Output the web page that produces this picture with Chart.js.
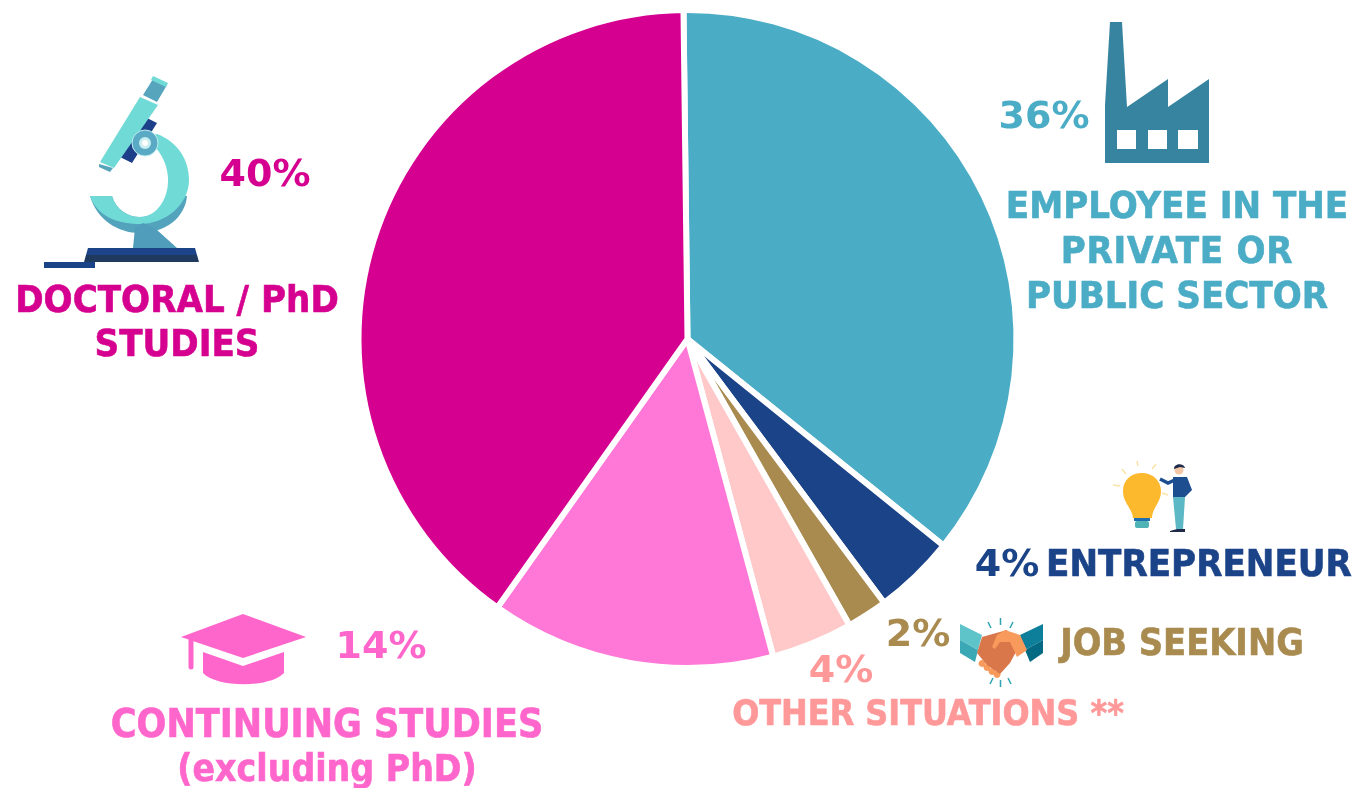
<!DOCTYPE html>
<html>
<head>
<meta charset="utf-8">
<title>Situation of graduates</title>
<script src="https://cdn.jsdelivr.net/npm/chart.js@4"></script>
<style>
  html, body { margin: 0; padding: 0; background: #fff; overflow: hidden; }
  #wrap { position: relative; width: 1355px; height: 788px; }
  #pie { position: absolute; left: 0; top: 0; }
  #icons { position: absolute; left: 0; top: 0; }
  .t {
    position: absolute; white-space: nowrap; font-weight: bold;
    font-family: "DejaVu Sans", sans-serif; font-stretch: condensed;
    -webkit-text-stroke: 0.6px currentColor;
    font-size: 38px; line-height: 44px; transform: translate(-50%, -50%);
  }
  .p { font-stretch: normal; -webkit-text-stroke: 0; }
</style>
</head>
<body>
<div id="wrap">
  <canvas id="pie" width="1355" height="788"></canvas>

  <svg id="icons" width="1355" height="788" viewBox="0 0 1355 788">
    <!-- microscope -->
    <path fill="#53a3bd" d="M90 196C97 220 118 233 140 233C165 233 185 218 187 196L168 196C160 212 150 217 140 217C128 217 116 210 112 196Z"/>
    <path fill="#6fdad6" d="M90 196L112 196C116 210 128 217 140 217C157 217 169 198 168 178C167 158 155 145 145 138L157 134C178 142 189 160 189 180C189 205 165 224 140 224C115 224 97 215 90 196Z"/>
    <path fill="#4f9cbb" d="M133 248L135 228L143 223L157 230L177 248Z"/>
    <path fill="#1d3f8a" d="M145 117L157 123L132 163L120 157Z"/>
    <path fill="#57a5bd" d="M153 79L167 85L157 102L143 95ZM99 164L113 168L110 172L99 167Z"/>
    <path fill="#6fdad6" d="M140 97L158 105L114 168L100 162Z"/>
    <path fill="#6fdad6" d="M153 76L168 83L166 87L151 80Z"/>
    <circle cx="145" cy="143" r="13" fill="#5aaac5" stroke="#bfeef0" stroke-width="1"/>
    <circle cx="145" cy="143" r="6" fill="#c9eef0"/>
    <circle cx="145" cy="143" r="3" fill="#fff"/>
    <path fill="#1d4488" d="M88 248H195L197 255H86Z"/>
    <path fill="#20395f" d="M86 255H197L199 262H84Z"/>
    <rect x="44" y="262" width="51" height="6" fill="#1b4388"/>

    <!-- factory -->
    <path fill="#36849f" fill-rule="evenodd" d="M1110 22H1122L1127 107L1168 79V107L1209 79V163H1105V105ZM1117 130V149H1136V130ZM1148 130V149H1167V130ZM1178 130V149H1198V130Z"/>

    <!-- bulb and man -->
    <g stroke="#fbe3a8" stroke-width="1.5">
      <path d="M1113 485L1120 486M1122 469L1126 474M1137 461L1138 466M1156 464L1152 469M1162 493L1168 495"/>
    </g>
    <path fill="#fdb92e" d="M1133 518C1132 508 1123 503 1123 491C1123 480 1131 473 1142 473C1153 473 1161 481 1161 491C1161 503 1152 508 1152 518Z"/>
    <rect x="1134" y="518" width="16" height="3" fill="#1f6fb0"/>
    <rect x="1135" y="521" width="14" height="7" rx="2" fill="#4fb3b5"/>
    <path stroke="#1d4e8f" stroke-width="3.5" fill="none" d="M1177 479L1168 483L1160 479"/>
    <path fill="#5bb8c4" d="M1173 497H1185L1183 529H1176Z"/>
    <path fill="#1d4e8f" d="M1173 477H1187L1192 490L1185 497H1173Z"/>
    <circle cx="1179" cy="470" r="4.5" fill="#f3c6a5"/>
    <path fill="#1e2b4a" d="M1174 469C1174 463 1184 463 1185 468L1180 467ZM1170 531L1177 529H1185V532H1170Z"/>

    <!-- handshake -->
    <path fill="#5fc3ca" d="M960 624L982 635L978 650L960 640Z"/>
    <path fill="#3aa9b5" d="M960 640L978 650L975 662L960 653Z"/>
    <path fill="#0d7f9b" d="M1043 624L1020 635L1025 650L1043 640Z"/>
    <path fill="#046a84" d="M1043 640L1025 650L1030 662L1043 653Z"/>
    <path fill="#f79a5b" d="M982 660a3.5 3.5 0 1 0 .1 0ZM987 664a3.5 3.5 0 1 0 .1 0ZM992 668a3.5 3.5 0 1 0 .1 0ZM997 671a3.5 3.5 0 1 0 .1 0Z"/>
    <path fill="#d9764a" d="M982 637L1007 630L1017 650L1010 663L1000 674L987 665L977 653Z"/>
    <path fill="#f79a5b" d="M992 647L997 635L1005 630L1020 635L1027 650L1017 657L1010 642L1000 642L995 649Z"/>
    <g stroke="#2fa3b3" stroke-width="1.5">
      <path d="M1000.5 618V625M988 622L991 628M1013 622L1010 628M1000.5 680V687M990 684L993 678M1011 684L1008 678"/>
    </g>

    <!-- graduation cap -->
    <path fill="#ff66cc" d="M243 614L306 637L243 658L181 637Z"/>
    <path fill="#ff66cc" d="M203 652L243 666L284 652V673C270 688 217 688 203 673Z"/>
    <path stroke="#ff66cc" stroke-width="5" stroke-linecap="round" d="M191 640V667"/>
  </svg>

  <div class="t p" style="left:265px;top:173px;color:#d5008f">40%</div>
  <div class="t" style="left:177px;top:299px;color:#d5008f">DOCTORAL / PhD</div>
  <div class="t" style="left:177px;top:343px;color:#d5008f">STUDIES</div>

  <div class="t p" style="left:1044px;top:115px;color:#4bacc6">36%</div>
  <div class="t" style="left:1177px;top:205px;color:#4bacc6">EMPLOYEE IN THE</div>
  <div class="t" style="left:1177px;top:250px;letter-spacing:0.7px;color:#4bacc6">PRIVATE OR</div>
  <div class="t" style="left:1177px;top:295px;color:#4bacc6">PUBLIC SECTOR</div>

  <div class="t p" style="left:1007px;top:563px;color:#1b4388">4%</div>
  <div class="t" style="left:1199px;top:563px;color:#1b4388">ENTREPRENEUR</div>

  <div class="t p" style="left:918px;top:633px;color:#a98b50">2%</div>
  <div class="t" style="left:1182px;top:642px;font-size:37.5px;color:#a98b50">JOB SEEKING</div>

  <div class="t p" style="left:841px;top:669px;color:#ff9999">4%</div>
  <div class="t" style="left:928px;top:713px;font-size:35.5px;color:#ff9999">OTHER SITUATIONS **</div>

  <div class="t p" style="left:381px;top:645px;color:#ff66cc">14%</div>
  <div class="t" style="left:327px;top:724px;font-size:39px;color:#ff66cc">CONTINUING STUDIES</div>
  <div class="t" style="left:327px;top:769px;font-size:37px;color:#ff66cc">(excluding PhD)</div>
</div>

<script>
var situations = ['Employee in the private or public sector', 'Entrepreneur', 'Job seeking', 'Other situations **', 'Continuing studies (excluding PhD)', 'Doctoral / PhD studies'];
var shares = [36, 4, 2, 4, 14, 40];
var sliceColors = ['#4bacc6', '#1b4388', '#a98b4f', '#ffc9c9', '#ff78d7', '#d5008f'];

new Chart('pie', {
    type: 'pie',
    data: {
        labels: situations,
        datasets: [{
            data: shares,
            backgroundColor: sliceColors,
            borderColor: '#ffffff',
            borderWidth: 6
        }]
    },
    options: {
        responsive: false,
        animation: false,
        rotation: -0.7,
        layout: {
            padding: { left: 20, top: 7, bottom: 117 }
        },
        plugins: {
            legend: { display: false },
            tooltip: { enabled: false }
        }
    }
});
</script>
</body>
</html>
